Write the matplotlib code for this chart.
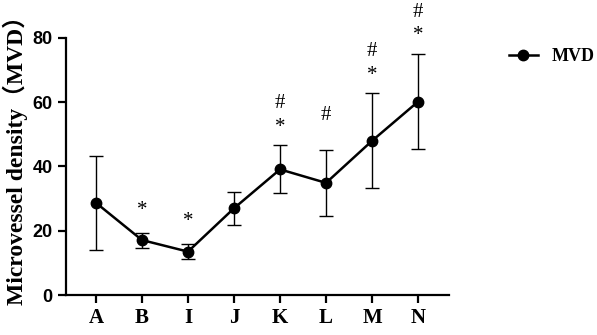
import matplotlib.pyplot as plt

# Données
groupes = ['A', 'B', 'I', 'J', 'K', 'L', 'M', 'N']
mvd = [28.7, 17.1, 13.5, 27.0, 39.1, 34.9, 48.0, 60.2]
err_bas = [14.7, 2.4, 2.4, 5.2, 7.3, 10.4, 14.6, 14.8]
err_haut = [14.7, 2.3, 2.4, 5.1, 7.5, 10.1, 14.8, 14.8]
etoile = [False, True, True, False, True, False, True, True]
diese = [False, False, False, False, True, True, True, True]

serif = ['Liberation Serif', 'Noto Sans CJK SC']

fig = plt.figure(figsize=(5.97, 3.35), dpi=100)
ax = fig.add_axes([0.1106, 0.1194, 0.6414, 0.7672])

x = list(range(len(groupes)))
ax.errorbar(x, mvd, yerr=[err_bas, err_haut], fmt='none', ecolor='black',
            elinewidth=1.0, capsize=5, capthick=1.0)
ax.plot(x, mvd, color='black', marker='o', markersize=7.5, linewidth=1.8,
        label='MVD')

# Annotations de significativité
for xi, yi, e, st, di in zip(x, mvd, err_haut, etoile, diese):
    if st:
        dy = 13 if di else 16
        ax.annotate('*', (xi, yi + e), xytext=(0, dy), textcoords='offset points',
                    ha='center', va='center', fontsize=15, family=serif)
    if di:
        dy = 30 if st else 25
        ax.annotate('#', (xi, yi + e), xytext=(0, dy), textcoords='offset points',
                    ha='center', va='center', fontsize=15, family=serif)

ax.set_xlim(-0.65, 7.67)
ax.set_ylim(0, 80)
ax.set_yticks([0, 20, 40, 60, 80])
ax.set_xticks(x)
ax.set_xticklabels(groupes, family=serif, fontweight='bold', fontsize=15)
for lab in ax.get_yticklabels():
    lab.set_family('Liberation Sans')
    lab.set_fontweight('bold')
    lab.set_fontsize(13)
ax.set_ylabel('Microvessel density（MVD）', family=serif, fontweight='bold',
              fontsize=17)
ax.yaxis.set_label_coords(-0.10, 0.545)

for side in ['top', 'right']:
    ax.spines[side].set_visible(False)
for side in ['left', 'bottom']:
    ax.spines[side].set_linewidth(1.6)
ax.tick_params(width=1.6, length=6, direction='out')

leg = fig.legend(loc='center left', bbox_to_anchor=(0.825, 0.83), frameon=False,
                 prop={'family': serif, 'weight': 'bold', 'size': 13},
                 handlelength=1.6, handletextpad=0.8)

plt.savefig('out.png', dpi=100)
